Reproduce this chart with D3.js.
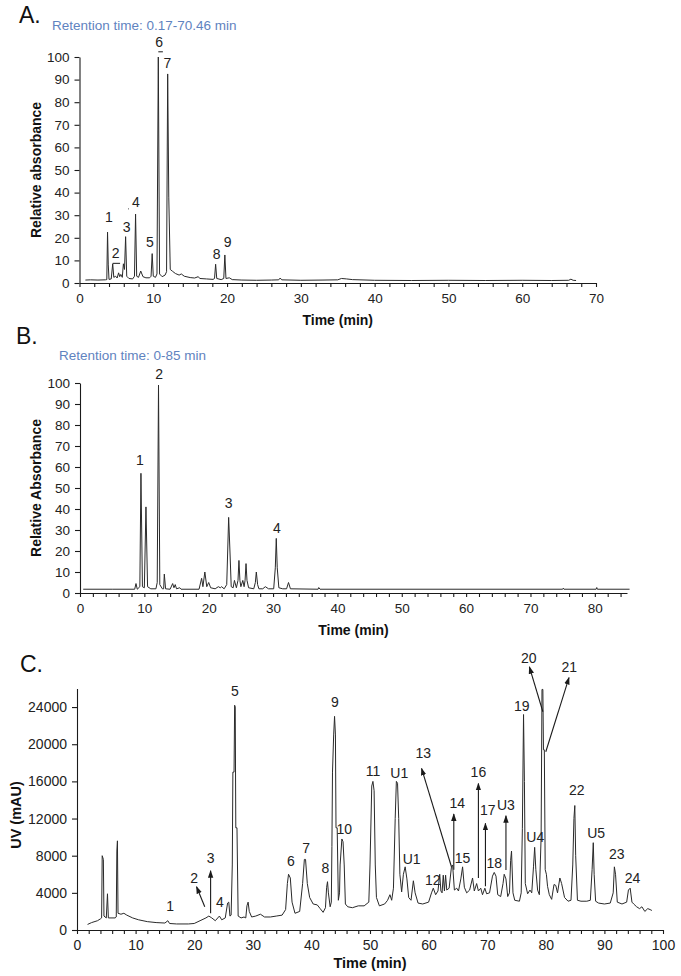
<!DOCTYPE html>
<html><head><meta charset="utf-8">
<script src="https://cdn.jsdelivr.net/npm/d3@7"></script>
<style>body{margin:0;background:#fff;} svg{display:block;font-family:"Liberation Sans",Arial,sans-serif;}</style>
</head><body><svg id="c" width="681" height="976"></svg>
<script>
// ---------- Panel A data (time min, relative absorbance) ----------
const traceA = [[0.8,1.3],[1.5,1.4],[2.5,1.3],[3.5,1.4],[3.7,1.5],[3.8,22.5],[3.9,8],[4.0,1.6],[4.3,1.8],[4.5,8.5],[4.65,2.5],[4.9,3],[5.1,2.2],[5.3,4.5],[5.45,2.8],[5.6,3.8],[5.8,2.5],[5.95,8.5],[6.1,6],[6.25,20.5],[6.4,3],[6.7,2],[7.2,1.8],[7.45,3],[7.6,30.5],[7.75,3],[8.0,2.5],[8.3,5.3],[8.6,2.8],[9.0,2.3],[9.5,2.3],[9.7,3],[9.85,13],[10.0,3],[10.3,2.5],[10.5,4],[10.68,100],[10.85,4],[11.2,2.8],[11.6,3.5],[11.8,5],[11.95,92.5],[12.1,38],[12.3,6],[12.6,5.2],[13.0,4.2],[13.5,3.5],[13.8,4],[14.2,3],[15.0,2.4],[15.6,2.2],[16.1,2.8],[16.3,2],[17.2,1.8],[18.1,1.6],[18.3,2],[18.45,8.3],[18.6,2],[19.2,1.5],[19.55,2],[19.7,12.4],[19.85,2],[20.3,2.3],[20.7,1.5],[22,1.3],[24,1.2],[26,1.3],[27.0,1.4],[27.2,2.2],[27.4,1.4],[30,1.2],[33,1.3],[35,1.4],[35.5,2],[36.2,1.8],[37,1.5],[40,1.2],[45,1.1],[50,1.2],[55,1.1],[60,1.2],[64,1.1],[66.3,1.2],[66.6,1.7],[66.9,1.2],[67.3,1.1]];
const labelsA = [["1",4.0,29.2],["2",4.9,13.3],["3",6.4,24.8],["4",7.66,35.8],["5",9.55,18.1],["6",10.81,106.6],["7",11.9,97.3],["8",18.6,12.8],["9",20.08,18.1]];
const marksA = [[4.5,8.7,5.5,8.7],[10.68,102.3,11.3,102.3],[6.6,32.8,6.7,32.8]];
const ticksAx = [0,10,20,30,40,50,60,70];
const ticksAy = [0,10,20,30,40,50,60,70,80,90,100];

// ---------- Panel B data ----------
const traceB = [[0.5,1.8],[5,1.8],[8.5,1.8],[8.7,4.5],[8.9,1.8],[9.3,3],[9.47,57],[9.7,3],[10.0,2.5],[10.25,41],[10.5,3],[11.0,2],[11.8,2],[12.0,5],[12.2,99],[12.4,4],[12.8,2],[13.0,2],[13.1,9],[13.3,2],[14.0,1.8],[14.4,4.5],[14.6,2.5],[14.8,4],[15.0,2],[15.5,2.5],[15.7,1.8],[18.5,1.8],[18.9,7],[19.1,3],[19.4,10],[19.7,3],[20.0,5],[20.3,2.5],[21.0,2],[21.5,3],[21.8,2.5],[22.0,3],[22.4,2],[22.8,4],[22.95,20],[23.1,36],[23.3,20],[23.5,3],[23.8,2.5],[24.0,6],[24.3,2.5],[24.55,6],[24.7,15.5],[24.85,6],[25.0,3],[25.3,6],[25.5,3],[25.65,6],[25.8,14],[25.95,6],[26.2,2.5],[27.0,2],[27.25,5],[27.4,10],[27.6,4],[27.8,2],[28.4,2],[28.8,3],[29.3,2],[30.1,2],[30.35,12],[30.5,26],[30.65,12],[30.9,2.5],[31.5,2],[32.1,2],[32.4,5],[32.7,2],[37.0,1.8],[37.1,2.6],[37.3,1.8],[75,1.8],[75.1,2.3],[75.2,1.8],[80.2,1.8],[80.3,2.6],[80.4,1.8],[85.4,1.8]];
const labelsB = [["1",9.3,63.3],["2",12.3,104.3],["3",23.1,43],["4",30.6,31.1]];
const ticksBx = [0,10,20,30,40,50,60,70,80];
const ticksBy = [0,10,20,30,40,50,60,70,80,90,100];

// ---------- Panel C data (time min, UV mAU) ----------
const traceC = [[1.8,600],[2.5,800],[3.5,1000],[4.0,1200],[4.2,1300],[4.3,8000],[4.5,7600],[4.6,1500],[5.0,1300],[5.2,3900],[5.35,1300],[6.5,1300],[6.7,1400],[6.8,8500],[6.9,9600],[7.0,1800],[7.5,1700],[8.0,1800],[8.5,1600],[9.5,1300],[10.5,1100],[12,900],[13.5,800],[15.0,750],[15.5,1000],[15.8,700],[17,650],[19,650],[20,700],[21,1000],[22.0,1300],[22.5,1500],[23.0,1300],[23.6,1000],[24.3,1500],[24.7,1100],[25.3,1300],[25.7,2900],[25.9,3000],[26.1,1500],[26.3,1600],[26.5,7000],[26.6,17000],[26.8,17000],[26.9,24200],[27.0,24000],[27.1,11000],[27.3,11000],[27.5,1500],[28.0,1300],[28.5,1400],[28.8,1300],[29.0,2600],[29.2,3000],[29.4,2000],[29.8,1400],[30.5,1500],[31.3,1700],[32,1400],[33,1400],[34,1500],[35,1600],[35.6,2200],[35.9,5000],[36.1,6000],[36.4,5600],[36.7,3000],[37.2,1800],[38.0,2000],[38.5,5000],[38.8,7600],[39.0,7600],[39.3,5000],[39.7,3500],[40.3,2800],[41.0,2700],[41.5,2300],[42.0,1900],[42.4,2400],[42.6,4600],[42.75,5200],[42.9,4000],[43.2,2500],[43.4,3000],[43.5,9000],[43.6,17000],[43.8,21000],[43.95,23000],[44.1,21000],[44.2,11000],[44.4,11000],[44.6,3200],[44.8,4000],[44.9,7000],[45.2,9800],[45.4,9500],[45.6,7000],[45.8,2800],[46.2,2500],[47,2400],[48,2600],[49,2600],[49.8,3000],[50.0,7000],[50.3,15500],[50.5,16000],[50.7,15000],[50.9,7000],[51.1,3500],[51.6,2600],[52.5,2800],[53.0,3200],[53.4,3800],[53.7,3200],[54.0,4500],[54.3,12000],[54.5,16000],[54.7,15800],[54.9,12000],[55.1,6000],[55.4,4100],[55.7,6000],[56.0,6800],[56.3,5500],[56.6,3500],[57.0,3200],[57.4,5300],[57.7,4000],[58.2,2900],[59,2800],[60,3000],[60.5,4000],[60.8,4500],[61.2,3800],[61.6,4200],[61.9,6000],[62.1,4200],[62.3,4000],[62.5,5900],[62.7,4200],[62.9,5900],[63.1,4300],[63.5,4500],[63.9,6800],[64.1,7000],[64.4,4300],[64.8,4500],[65.1,4200],[65.5,5500],[65.8,6800],[66.1,4600],[66.5,4000],[67.0,4300],[67.5,5600],[67.8,4200],[68.2,5000],[68.5,4200],[68.9,4500],[69.2,3800],[69.6,4500],[69.9,3900],[70.4,4000],[70.9,5800],[71.2,6200],[71.5,5800],[71.8,3800],[72.3,3600],[72.7,5000],[72.9,6000],[73.2,5500],[73.5,3600],[73.8,4000],[74.0,7500],[74.15,8500],[74.4,4000],[74.7,3200],[75.5,3100],[75.8,4000],[76.0,10900],[76.2,23200],[76.35,16000],[76.5,5000],[76.9,3900],[77.3,4300],[77.6,4000],[77.9,6800],[78.1,8900],[78.3,6500],[78.6,4300],[78.9,3800],[79.2,10000],[79.35,25900],[79.5,25900],[79.6,19400],[79.75,19400],[79.9,6500],[80.1,6000],[80.3,4700],[80.6,3800],[81.0,3300],[81.4,4900],[81.7,4800],[82.0,4000],[82.4,5600],[82.7,5000],[83.2,3500],[83.8,3100],[84.3,3200],[84.6,7000],[84.8,12000],[84.95,13400],[85.1,8000],[85.4,3200],[86,3100],[87,3100],[87.6,3200],[87.9,6500],[88.1,9400],[88.25,6000],[88.5,3100],[89,2900],[90,2800],[91,2900],[91.5,4000],[91.7,6800],[91.9,6000],[92.2,3000],[93.0,2800],[93.8,3000],[94.1,4300],[94.4,4500],[94.7,3000],[95,2800],[95.5,2500],[96.0,2300],[96.4,2500],[96.9,2000],[97.4,2300],[97.8,2200],[98.1,2100]];
const labelsC = [["1",15.9,2620],["2",20.0,5560],["3",22.8,7780],["4",24.4,3050],["5",26.96,25750],["6",36.5,7460],["7",39.1,8790],["8",42.4,6700],["9",44.0,24530],["10",45.6,10830],["11",50.5,17140],["U1",55.0,16930],["U1",57.1,7640],["12",60.7,5380],["13",59.1,19080],["14",64.9,13630],["15",65.8,7700],["16",68.5,17030],["17",70.1,12910],["U3",73.2,13450],["18",71.2,7170],["19",75.9,24100],["U4",78.2,9970],["20",77.1,29230],["21",84.0,28330],["22",85.3,15060],["U5",88.6,10470],["23",92.1,8180],["24",94.8,5560]];
const arrowsC = [[21.8,2500,20.4,4660],[22.8,1800,22.8,6380],[63.9,6810,58.8,17400],[64.3,6500,64.3,12480],[68.5,5600,68.5,15780],[69.7,4700,69.7,11480],[73.2,6460,73.2,12300],[79.5,23500,77.2,28330],[80.0,19190,83.96,27180]];
const ticksCx = [0,10,20,30,40,50,60,70,80,90,100];
const ticksCy = [0,4000,8000,12000,16000,20000,24000];

const svg = d3.select("#c");
const ink = "#1a1a1a";
svg.append("defs").append("marker").attr("id","arr").attr("viewBox","0 0 10 10")
  .attr("refX",9).attr("refY",5).attr("markerWidth",7).attr("markerHeight",7)
  .attr("orient","auto").append("path").attr("d","M0,1.5L10,5L0,8.5z").attr("fill",ink);

function panel(o){
  const x = d3.scaleLinear().domain([0,o.xmax]).range([o.x0,o.x1]);
  const y = d3.scaleLinear().domain([0,o.ymax]).range([o.y0,o.y1]);
  const minor = d3.range(0,o.xmax+0.001,2);
  const gx = svg.append("g").attr("transform",`translate(0,${o.y0})`)
    .call(d3.axisBottom(x).tickValues(minor).tickSize(4).tickSizeOuter(0).tickPadding(6)
      .tickFormat(d=> o.xticks.includes(d)? String(d) : ""));
  const gy = svg.append("g").attr("transform",`translate(${o.x0},0)`)
    .call(d3.axisLeft(y).tickValues(o.yticks).tickSize(5).tickSizeOuter(0).tickPadding(5).tickFormat(d=>String(d)));
  [gx,gy].forEach(g=>{
    g.selectAll("path,line").attr("stroke",ink).attr("stroke-width",1.1);
    g.selectAll("text").attr("font-size",o.fs).attr("fill","#222").attr("font-family","Liberation Sans, Arial, sans-serif");
  });
  svg.append("path").datum(o.trace)
    .attr("d",d3.line().x(d=>x(d[0])).y(d=>y(d[1])))
    .attr("fill","none").attr("stroke","#2a2a2a").attr("stroke-width",1).attr("stroke-linejoin","round");
  svg.append("g").selectAll("text").data(o.labels).join("text")
    .attr("x",d=>x(d[1])).attr("y",d=>y(d[2])).attr("dy","0.35em")
    .attr("text-anchor","middle").attr("font-size",o.lfs).attr("fill","#222").text(d=>d[0]);
  svg.append("text").attr("x",(o.x0+o.x1)/2).attr("y",o.xty).attr("text-anchor","middle")
    .attr("font-weight","bold").attr("font-size",o.tfs).attr("fill","#111").text("Time (min)");
  svg.append("text").attr("transform",`translate(${o.ytx},${o.ytc}) rotate(-90)`).attr("dy","0.35em")
    .attr("text-anchor","middle").attr("font-weight","bold").attr("font-size",o.tfs).attr("fill","#111").text(o.ytitle);
  return {x,y};
}

// Panel A
const A = panel({xmax:70,ymax:100,x0:79.5,x1:596,y0:283,y1:57,xticks:ticksAx,yticks:ticksAy,trace:traceA,labels:labelsA,
  fs:13.5,lfs:14,tfs:14,xty:325,ytx:36,ytc:170,ytitle:"Relative absorbance"});
svg.append("g").selectAll("line").data(marksA).join("line")
  .attr("x1",d=>A.x(d[0])).attr("y1",d=>A.y(d[1])).attr("x2",d=>A.x(d[2])).attr("y2",d=>A.y(d[3]))
  .attr("stroke",ink).attr("stroke-width",1);
svg.append("text").attr("x",19).attr("y",23).attr("font-size",23).attr("fill","#111").text("A.");
svg.append("text").attr("x",52).attr("y",30).attr("font-size",13.5).attr("fill","#5f83c0").text("Retention time: 0.17-70.46 min");

// Panel B
const B = panel({xmax:85,ymax:100,x0:80,x1:627,y0:593,y1:383,xticks:ticksBx,yticks:ticksBy,trace:traceB,labels:labelsB,
  fs:13.5,lfs:14,tfs:14,xty:635,ytx:36,ytc:488,ytitle:"Relative Absorbance"});
svg.append("text").attr("x",16).attr("y",344).attr("font-size",23).attr("fill","#111").text("B.");
svg.append("text").attr("x",59).attr("y",360).attr("font-size",13.5).attr("fill","#5f83c0").text("Retention time: 0-85 min");

// Panel C
const C = panel({xmax:100,ymax:26000,x0:77,x1:663,y0:930,y1:688.5,xticks:ticksCx,yticks:ticksCy,trace:traceC,labels:labelsC,
  fs:14,lfs:14,tfs:14.5,xty:968,ytx:16,ytc:815,ytitle:"UV (mAU)"});
svg.append("g").selectAll("line").data(arrowsC).join("line")
  .attr("x1",d=>C.x(d[0])).attr("y1",d=>C.y(d[1])).attr("x2",d=>C.x(d[2])).attr("y2",d=>C.y(d[3]))
  .attr("stroke",ink).attr("stroke-width",1.1).attr("marker-end","url(#arr)");
svg.append("text").attr("x",20).attr("y",672).attr("font-size",23).attr("fill","#111").text("C.");
</script></body></html>
